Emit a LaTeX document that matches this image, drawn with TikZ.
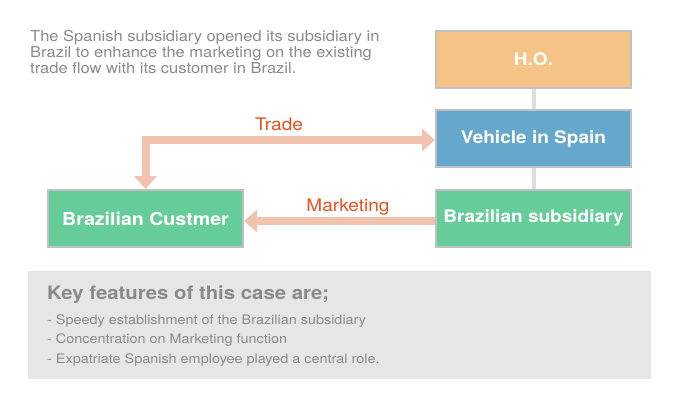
\documentclass[tikz,border=0pt]{standalone}
\usepackage{fontspec}
\setmainfont[FakeStretch=1.1]{TeX Gyre Heros}
\usetikzlibrary{arrows.meta}
\definecolor{hoC}{HTML}{F5C385}
\definecolor{vehC}{HTML}{66A8CC}
\definecolor{grnC}{HTML}{66CC99}
\definecolor{bordC}{HTML}{C0C0C0}
\definecolor{arrC}{HTML}{F1C3AE}
\definecolor{lblC}{HTML}{E8501E}
\definecolor{txtC}{HTML}{8A8A8A}
\definecolor{keyC}{HTML}{E6E6E6}
\definecolor{linkC}{HTML}{DDDDDD}
\tikzset{
  box/.style={draw=bordC, line width=2pt, minimum width=195pt, minimum height=57pt,
    inner sep=0pt, text=white, font=\fontsize{17.3}{20}\selectfont\bfseries},
  arr/.style={draw=arrC, line width=8pt, -{Triangle[length=13pt,width=22pt]}},
  lbl/.style={text=lblC, font=\fontsize{17.3}{18}\selectfont, inner sep=0pt, anchor=base},
  para/.style={text=txtC, anchor=base west, inner sep=0pt, font=\fontsize{15}{16}\selectfont},
  keyline/.style={text=txtC, anchor=base west, inner sep=0pt, font=\fontsize{13.1}{14}\selectfont}
}
\begin{document}
\begin{tikzpicture}[x=1pt,y=-1pt]
\useasboundingbox[fill=white] (0,0) rectangle (680,409);
% key features box
\fill[keyC] (28,271) rectangle (651,379);
% top paragraph
\node[para] (intro1) at (30,42) {The Spanish subsidiary opened its subsidiary in};
\node[para] (intro2) at (30,58) {Brazil to enhance the marketing on the existing};
\node[para] (intro3) at (30,74) {trade flow with its customer in Brazil.};
% boxes
\node[box, fill=hoC] (ho) at (533.5,59.5) {H.O.};
\node[box, fill=vehC] (veh) at (533.5,138.5) {Vehicle in Spain};
\node[box, fill=grnC] (sub) at (533.5,218) {Brazilian subsidiary};
\node[box, fill=grnC, font=\fontsize{17.8}{20}\selectfont\bfseries] (cust) at (145.5,218.5) {Brazilian Custmer};
% links
\draw[linkC, line width=4pt] (ho.south) -- (veh.north);
\draw[linkC, line width=4pt] (veh.south) -- (sub.north);
% arrows
\draw[arr, {Triangle[length=13pt,width=22pt]}-{Triangle[length=13pt,width=22pt]}]
  (cust.north) |- ([yshift=-1.5pt]veh.west);
\draw[arr] ([yshift=-3pt]sub.west) -- ([yshift=-2.5pt]cust.east);
\node[lbl] (tradeL) at (279,131) {Trade};
\node[lbl] (mktL) at (348,211) {Marketing};
% key features text
\node[text=txtC, anchor=base west, inner sep=0pt, font=\fontsize{18.5}{20}\selectfont\bfseries]
  (keyH) at (47,299) {Key features of this case are;};
\node[keyline] (k1) at (47,324) {- Speedy establishment of the Brazilian subsidiary};
\node[keyline] (k2) at (47,343.5) {- Concentration on Marketing function};
\node[keyline] (k3) at (47,363) {- Expatriate Spanish employee played a central role.};
\end{tikzpicture}
\end{document}
